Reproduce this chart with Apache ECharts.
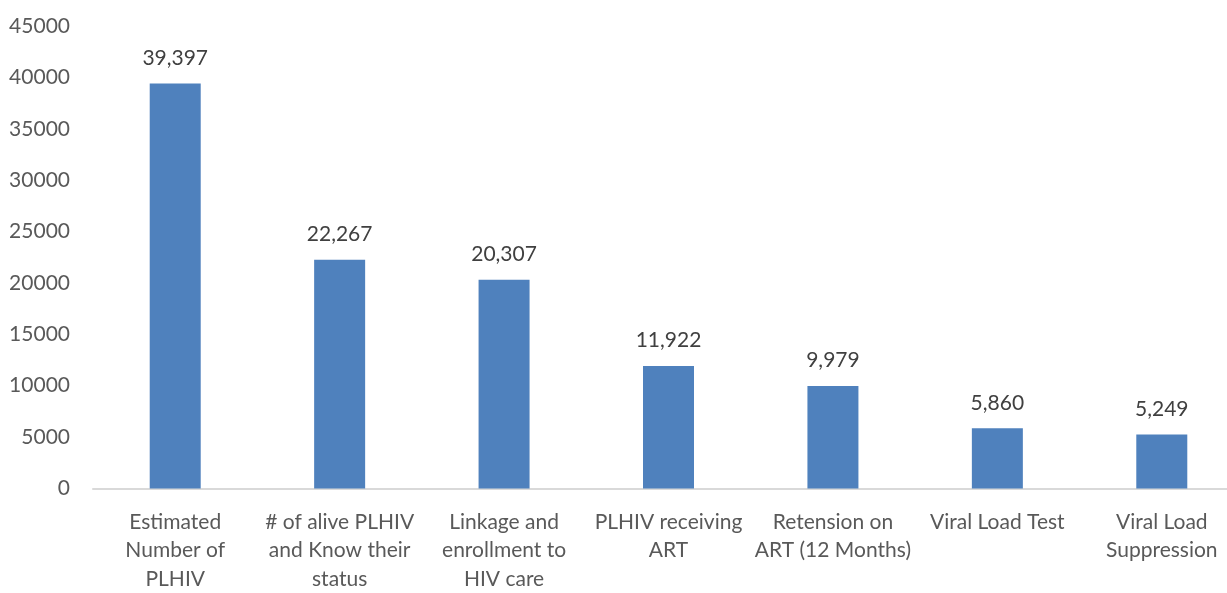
<!DOCTYPE html>
<html>
<head>
<meta charset="utf-8">
<script src="https://cdn.jsdelivr.net/npm/echarts@6/dist/echarts.min.js"></script>
<style>
  html, body { margin: 0; padding: 0; background: #fff; overflow: hidden; }
  /* plot area runs a little past the right edge of the picture */
  #chart { width: 1244px; height: 593px; }
</style>
</head>
<body>
<div id="chart"></div>
<script>
var categories = [
    'Estimated\nNumber of\nPLHIV',
    '# of alive PLHIV\nand Know their\nstatus',
    'Linkage and\nenrollment to\nHIV care',
    'PLHIV receiving\nART',
    'Retension on\nART (12 Months)',
    'Viral Load Test',
    'Viral Load\nSuppression'
];
var values = [39397, 22267, 20307, 11922, 9979, 5860, 5249];
var yTicks = { min: 0, max: 45000, interval: 5000 };

var textColor = '#595959';
var fontFamily = 'Lato, "Open Sans", sans-serif';

var myChart = echarts.init(document.getElementById('chart'));
var option = {
    animation: false,
    grid: {
        left: 93,
        top: 26,
        right: 0,
        height: 465
    },
    xAxis: {
        type: 'category',
        data: categories,
        axisLine: { lineStyle: { color: '#d9d9d9', width: 2 } },
        axisTick: { show: false },
        axisLabel: {
            interval: 0,
            margin: 19,
            color: textColor,
            fontFamily: fontFamily,
            fontSize: 21,
            lineHeight: 28.5
        }
    },
    yAxis: {
        type: 'value',
        min: yTicks.min,
        max: yTicks.max,
        interval: yTicks.interval,
        axisLine: { show: false },
        axisTick: { show: false },
        splitLine: { show: false },
        axisLabel: {
            margin: 23,
            color: textColor,
            fontFamily: fontFamily,
            fontSize: 21,
            formatter: function (v) { return String(v); }
        }
    },
    series: [
        {
            type: 'bar',
            data: values,
            barWidth: 51,
            itemStyle: { color: '#4f81bd' },
            label: {
                show: true,
                position: 'top',
                distance: 15,
                color: '#404040',
                fontFamily: fontFamily,
                fontSize: 21,
                formatter: function (p) {
                    return p.value.toLocaleString('en-US');
                }
            }
        }
    ]
};
myChart.setOption(option);
</script>
</body>
</html>
